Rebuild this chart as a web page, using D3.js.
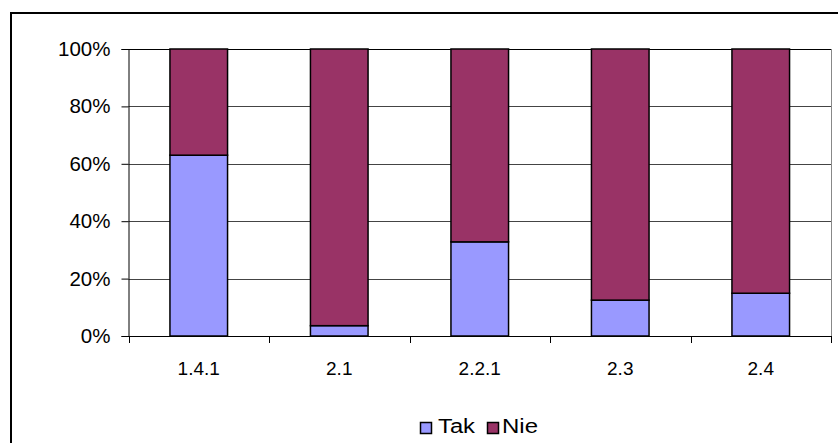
<!DOCTYPE html>
<html>
<head>
<meta charset="utf-8">
<script src="https://cdn.jsdelivr.net/npm/d3@7"></script>
<style>
  html, body { margin: 0; padding: 0; background: #fff; }
  svg { display: block; }
  text { font-family: "Liberation Sans", Arial, sans-serif; fill: #000; }
</style>
</head>
<body>
<svg id="chart" width="838" height="443"></svg>
<script>
const categories = ["1.4.1", "2.1", "2.2.1", "2.3", "2.4"];
const seriesNames = ["Tak", "Nie"];
const takValues = [63, 3.6, 32.8, 12.5, 14.9];
const nieValues = [37, 96.4, 67.2, 87.5, 85.1];
const yTicks = [0, 20, 40, 60, 80, 100];
const colors = ["#9999FF", "#993366"];

(function () {
const svg = d3.select("#chart");
const W = 838, H = 443;

// outer frame (chart area border)
svg.append("rect")
  .attr("x", 11).attr("y", 13)
  .attr("width", W + 20).attr("height", H + 20)
  .attr("fill", "#fff").attr("stroke", "#000").attr("stroke-width", 2);

const pLeft = 128.5, pRight = 831, pTop = 49, pBottom = 336;

const x = d3.scaleBand().domain(categories).range([pLeft, pRight]).paddingInner(0.59).paddingOuter(0.295);
const xTickScale = d3.scaleLinear().domain([0, categories.length]).range([pLeft, pRight]);
const y = d3.scaleLinear().domain([0, 100]).range([pBottom, pTop]);

// gridlines
svg.append("g").selectAll("line").data(yTicks.filter(t => t > 0)).join("line")
  .attr("x1", pLeft).attr("x2", pRight)
  .attr("y1", d => Math.round(y(d)) + 0.5).attr("y2", d => Math.round(y(d)) + 0.5)
  .attr("stroke", d => d === 100 ? "#000" : "#444").attr("stroke-width", 1);

// right border of plot area
svg.append("line")
  .attr("x1", pRight + 0.5).attr("x2", pRight + 0.5)
  .attr("y1", pTop).attr("y2", pBottom)
  .attr("stroke", "#888").attr("stroke-width", 1);

// stacked bars
const stackData = categories.map((c, i) => ({ cat: c, Tak: takValues[i], Nie: nieValues[i] }));
const stacked = d3.stack().keys(seriesNames)(stackData);

svg.append("g").selectAll("g").data(stacked).join("g")
  .attr("fill", (d, i) => colors[i])
  .selectAll("rect").data(d => d).join("rect")
  .attr("x", d => x(d.data.cat))
  .attr("y", d => y(d[1]))
  .attr("width", x.bandwidth())
  .attr("height", d => y(d[0]) - y(d[1]))
  .attr("stroke", "#000").attr("stroke-width", 1.5);

// y axis
const yAxis = d3.axisLeft(y).tickValues(yTicks).tickFormat(d => d + "%").tickSize(7).tickPadding(11);
const gy = svg.append("g").attr("transform", `translate(${pLeft},0)`).call(yAxis);
gy.select(".domain").attr("stroke", "#000");
gy.selectAll(".tick line").attr("stroke", "#000");
gy.selectAll("text").style("font-size", "20.5px").attr("fill", "#000")
  .style("font-family", "'Liberation Sans', Arial, sans-serif");

// x axis (ticks at category boundaries)
const gx = svg.append("g").attr("transform", `translate(0,${pBottom})`);
gx.append("line").attr("x1", pLeft).attr("x2", pRight + 0.5).attr("y1", 0.5).attr("y2", 0.5)
  .attr("stroke", "#000").attr("stroke-width", 1);
gx.selectAll("line.tk").data(d3.range(categories.length + 1)).join("line")
  .attr("class", "tk")
  .attr("x1", d => Math.round(xTickScale(d)) + 0.5).attr("x2", d => Math.round(xTickScale(d)) + 0.5)
  .attr("y1", 0).attr("y2", 7).attr("stroke", "#000");
gx.selectAll("text").data(categories).join("text")
  .attr("x", d => x(d) + x.bandwidth() / 2)
  .attr("y", 39)
  .attr("text-anchor", "middle")
  .style("font-size", "19px")
  .text(d => d);

// legend
const legend = svg.append("g");
const legendItems = [
  { name: seriesNames[0], color: colors[0], x: 420.5, tx: 438, tw: 37 },
  { name: seriesNames[1], color: colors[1], x: 487.5, tx: 502, tw: 36 }
];
legend.selectAll("rect").data(legendItems).join("rect")
  .attr("x", d => d.x).attr("y", 422.5)
  .attr("width", 11).attr("height", 11)
  .attr("fill", d => d.color).attr("stroke", "#000").attr("stroke-width", 1.5);
legend.selectAll("text").data(legendItems).join("text")
  .attr("x", d => d.tx).attr("y", 433)
  .attr("textLength", d => d.tw)
  .attr("lengthAdjust", "spacingAndGlyphs")
  .style("font-size", "20px")
  .text(d => d.name);
})();
</script>
</body>
</html>
